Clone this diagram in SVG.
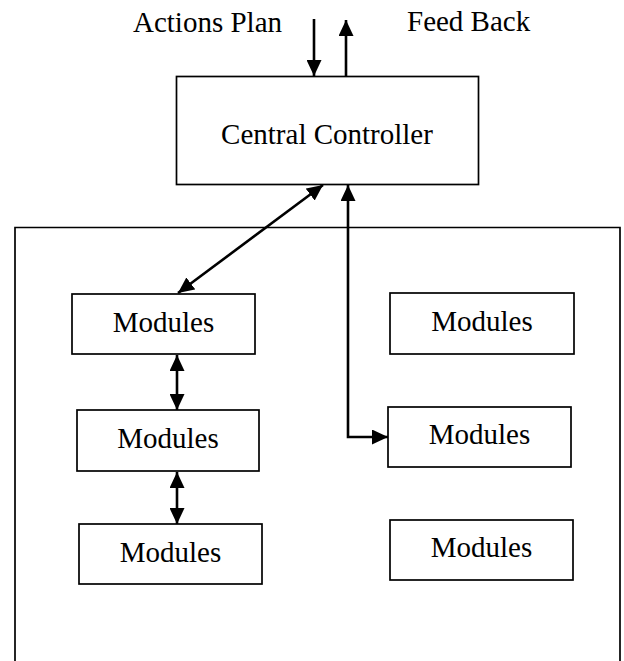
<svg xmlns="http://www.w3.org/2000/svg" width="624" height="661" viewBox="0 0 624 661">
<style>
.box{fill:#fff;stroke:#000;stroke-width:1.7}
.frame{fill:none;stroke:#000;stroke-width:1.7}
.lbl{font-family:"Liberation Serif","Times New Roman",serif;font-size:29px;fill:#000}
.conn{fill:none;stroke:#000;stroke-width:2.6}
</style>
<defs>
<marker id="ah" markerUnits="userSpaceOnUse" markerWidth="16" markerHeight="15" refX="16" refY="7.5" orient="auto-start-reverse" viewBox="0 0 16 15">
<path d="M0,0 L16,7.5 L0,15 z" fill="#000"/>
</marker>
</defs>
<g id="system-frame">
<path class="frame" d="M15,661 V227.5 H620 V661"/>
</g>
<g id="labels">
<text class="lbl" x="133" y="32">Actions Plan</text>
<text class="lbl" x="407" y="31">Feed Back</text>
</g>
<g id="central-controller">
<rect class="box" x="176.5" y="76.5" width="302" height="108"/>
<text class="lbl" x="327" y="144" text-anchor="middle">Central Controller</text>
</g>
<g id="module-l1">
<rect class="box" x="72" y="294" width="183" height="60"/>
<text class="lbl" x="163.5" y="332" text-anchor="middle">Modules</text>
</g>
<g id="module-l2">
<rect class="box" x="77" y="410" width="182" height="61"/>
<text class="lbl" x="168" y="448" text-anchor="middle">Modules</text>
</g>
<g id="module-l3">
<rect class="box" x="79" y="524" width="183" height="60"/>
<text class="lbl" x="170.5" y="562" text-anchor="middle">Modules</text>
</g>
<g id="module-r1">
<rect class="box" x="390" y="293" width="184" height="61"/>
<text class="lbl" x="482" y="331" text-anchor="middle">Modules</text>
</g>
<g id="module-r2">
<rect class="box" x="388" y="407" width="183" height="60"/>
<text class="lbl" x="479.5" y="444" text-anchor="middle">Modules</text>
</g>
<g id="module-r3">
<rect class="box" x="390" y="520" width="183" height="60"/>
<text class="lbl" x="481.5" y="557" text-anchor="middle">Modules</text>
</g>
<g id="connectors">
<line class="conn" x1="314" y1="19" x2="314" y2="76" marker-end="url(#ah)"/>
<line class="conn" x1="346" y1="76" x2="346" y2="20" marker-end="url(#ah)"/>
<line class="conn" x1="178" y1="293" x2="323" y2="185" marker-start="url(#ah)" marker-end="url(#ah)"/>
<line class="conn" x1="177" y1="355" x2="177" y2="410" marker-start="url(#ah)" marker-end="url(#ah)"/>
<line class="conn" x1="177" y1="472" x2="177" y2="524" marker-start="url(#ah)" marker-end="url(#ah)"/>
<path class="conn" d="M388,437 H348 V185" marker-start="url(#ah)" marker-end="url(#ah)"/>
</g>
</svg>
